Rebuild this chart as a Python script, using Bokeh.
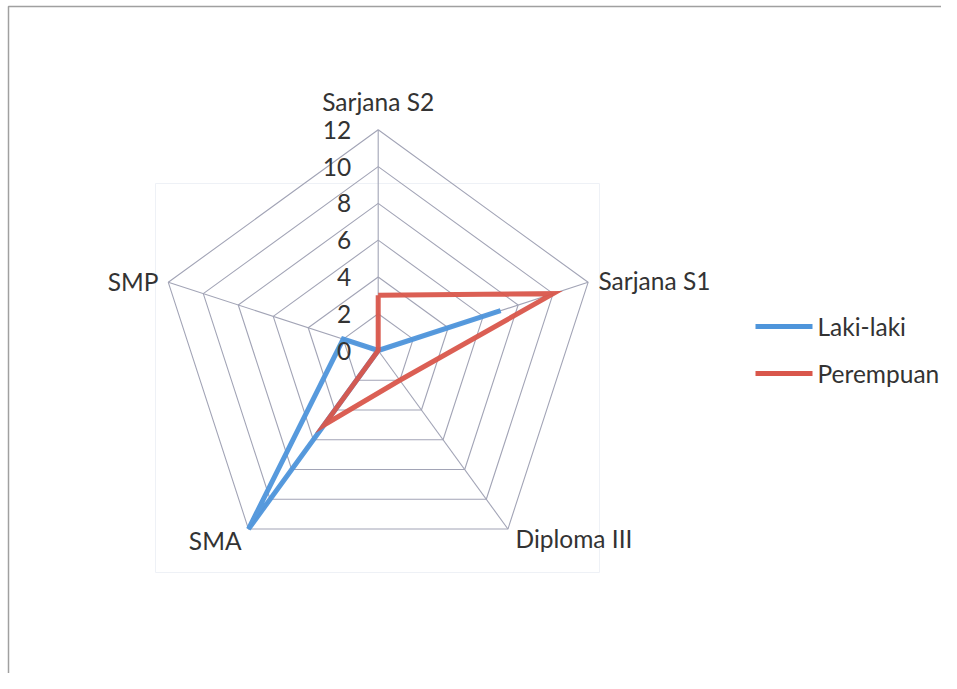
import math
from bokeh.plotting import figure
from bokeh.models import Range1d
from bokeh.embed import file_html
from bokeh.resources import INLINE
from bokeh.core.properties import value

categories = ["Sarjana S2", "Sarjana S1", "Diploma III", "SMA", "SMP"]
laki_laki = [0, 7, 0, 12, 2]
perempuan = [3, 10, 2, 5, 0]
ticks = [0, 2, 4, 6, 8, 10, 12]
series_names = ["Laki-laki", "Perempuan"]

BLUE = "#4E95DB"
RED = "#D9564B"
GRID = "#A2A4B6"
TXT = "#333333"
FONT = "Lato"
FS = "24.5px"

W, H = 941, 673
PX = 220.7 / 12.0          # pixels per data unit
CX, CY = 377.7, 350.0      # centre in picture pixels
ORIGIN = 0                 # picture pixel of the figure's top-left corner


def to_data(X, Y):
    return (X - CX) / PX, (CY - Y) / PX


x0, y1 = to_data(ORIGIN, ORIGIN)
x1, y0 = to_data(ORIGIN + W, ORIGIN + H)

p = figure(width=W, height=H, output_backend="svg", toolbar_location=None,
           x_range=Range1d(x0, x1), y_range=Range1d(y0, y1),
           min_border=0, outline_line_color=None)
p.axis.visible = False
p.grid.visible = False
p.background_fill_color = "white"

n = len(categories)
angles = [2 * math.pi * i / n for i in range(n)]


def pt(r, a):
    return r * math.sin(a), r * math.cos(a)


# outer chart frame (left and top edges)
fx0, fy0 = to_data(8, ORIGIN + H + 2)
fx1, fy1 = to_data(ORIGIN + W + 2, 6)
p.line([fx0, fx0, fx1], [fy0, fy1, fy1], line_color="#A0A0A0", line_width=1.5)

# faint plot-area box
bx0, by0 = to_data(155, 572)
bx1, by1 = to_data(599, 183)
p.line([bx0, bx0, bx1, bx1, bx0], [by1, by0, by0, by1, by1],
       line_color="#EEF1F6", line_width=1)

# rings
for t in ticks[1:]:
    xs = [pt(t, a)[0] for a in angles] + [pt(t, angles[0])[0]]
    ys = [pt(t, a)[1] for a in angles] + [pt(t, angles[0])[1]]
    p.line(xs, ys, line_color=GRID, line_width=1.1)

# spokes
for a in angles:
    ex, ey = pt(ticks[-1], a)
    p.line([0, ex], [0, ey], line_color=GRID, line_width=1.1)

# series
for vals, col in [(laki_laki, BLUE), (perempuan, RED)]:
    xs = [pt(v, a)[0] for v, a in zip(vals, angles)]
    ys = [pt(v, a)[1] for v, a in zip(vals, angles)]
    xs.append(xs[0]); ys.append(ys[0])
    p.line(xs, ys, line_color=col, line_width=5, line_join="miter", line_alpha=0.95)

# tick labels
tx = [(-27) / PX] * len(ticks)
ty = [t for t in ticks]
p.text(x=tx, y=ty, text=[str(t) for t in ticks], text_align="right",
       text_baseline="middle", text_font=value(FONT), text_font_size=FS,
       text_color=TXT)

# category labels
lab_pos = [(377.7, 101, "center"), (598, 280, "left"), (515, 538, "left"),
           (241, 540, "right"), (158, 281, "right")]
for name, (X, Y, al) in zip(categories, lab_pos):
    lx, ly = to_data(X, Y)
    p.text(x=[lx], y=[ly], text=[name], text_align=al, text_baseline="middle",
           text_font=value(FONT), text_font_size=FS, text_color=TXT)

# legend
for name, col, Y in [(series_names[0], BLUE, 326), (series_names[1], RED, 373)]:
    ax, ay = to_data(755, Y)
    bx, _ = to_data(812, Y)
    p.line([ax, bx], [ay, ay], line_color=col, line_width=5)
    lx, ly = to_data(817, Y)
    p.text(x=[lx], y=[ly], text=[name], text_align="left", text_baseline="middle",
           text_font=value(FONT), text_font_size=FS, text_color=TXT)

open("out.html", "w").write(file_html(p, INLINE))
